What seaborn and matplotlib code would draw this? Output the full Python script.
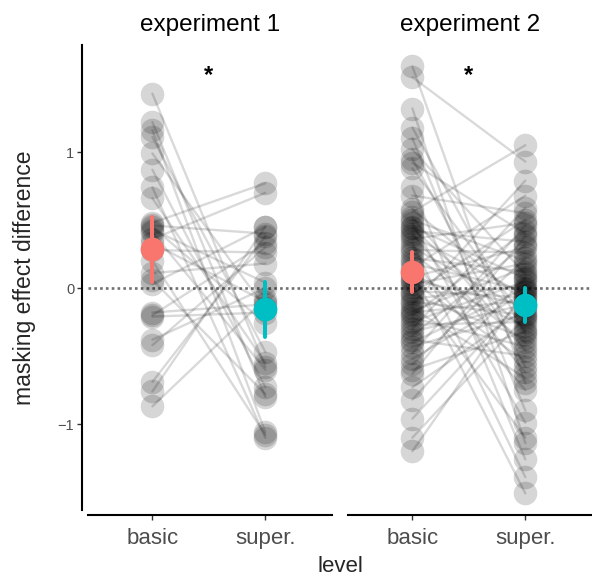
import numpy as np
import pandas as pd
import seaborn as sns
import matplotlib.pyplot as plt

# categories
levels = ['basic', 'super.']
experiments = ['experiment 1', 'experiment 2']

# experiment 1: paired values per subject (basic, super.)
exp1_basic = [1.43, 1.22, 1.16, 1.11, 0.99, 0.87, 0.74, 0.66, 0.48, 0.46,
              0.45, 0.43, 0.41, 0.36, 0.33, 0.28, 0.20, 0.11, 0.06, 0.03,
              -0.18, -0.20, -0.21, -0.38, -0.42, -0.69, -0.76, -0.87]
exp1_super = [-0.58, -0.80, -1.06, -0.47, -0.15, -0.73, -1.10, -0.55, 0.77, 0.40,
              -0.26, 0.04, -0.60, 0.70, -0.10, 0.26, -1.08, 0.18, -0.78, 0.45,
              -0.12, 0.33, -0.18, 0.00, 0.30, 0.38, 0.45, -0.08]

# experiment 2
exp2_basic = [1.63, 1.55, 1.32, 1.18, 1.10, 1.02, 0.95, 0.92, 0.88, 0.74,
              0.68, 0.58, 0.56, 0.52, 0.50, 0.48, 0.45, 0.44, 0.42, 0.40,
              0.38, 0.36, 0.33, 0.30, 0.28, 0.26, 0.22, 0.20, 0.18, 0.15,
              0.12, 0.10, 0.08, 0.06, 0.05, 0.03, 0.01, -0.02, -0.04, -0.05,
              -0.08, -0.10, -0.12, -0.15, -0.17, -0.18, -0.20, -0.22, -0.25, -0.27,
              -0.30, -0.32, -0.35, -0.38, -0.40, -0.43, -0.48, -0.52, -0.56, -0.60,
              -0.63, -0.73, -0.82, -0.96, -1.10, -1.20]
exp2_super = [-0.70, 0.93, -1.14, -0.34, -0.90, 0.10, -0.58, 0.40, -0.23, -1.26,
              0.55, -0.11, 1.05, -0.46, 0.20, -0.99, 0.07, -0.31, 0.34, -0.62,
              -0.05, 0.48, -1.39, -0.17, 0.26, -0.40, 0.12, -0.75, -0.02, 0.68,
              -1.51, -0.28, 0.30, -0.13, -0.54, 0.18, -1.10, -0.07, 0.50, -0.37,
              0.02, -0.20, 0.79, -0.66, 0.15, -0.09, 0.42, -0.43, 0.05, -0.25,
              0.59, -0.12, 0.32, -0.50, 0.00, -0.19, 0.46, -0.03, 0.22, -0.32,
              0.38, -0.15, 0.08, -0.06, -0.21, -0.01]

significance = ['*', '*']


def makeFrame(basic, superord, exp):
  n = len(basic)
  df = pd.DataFrame({
    'subject': list(range(n)) * 2,
    'level': [levels[0]] * n + [levels[1]] * n,
    'value': list(basic) + list(superord),
  })
  df['experiment'] = exp
  df['xpos'] = df['level'].map({l: i for i, l in enumerate(levels)})
  return df


frames = [makeFrame(exp1_basic, exp1_super, experiments[0]),
          makeFrame(exp2_basic, exp2_super, experiments[1])]

sns.set_style('white')
plt.rcParams['font.family'] = ['Liberation Sans', 'DejaVu Sans']

W, H = 592, 578
fig = plt.figure(figsize=(W / 100, H / 100), dpi=100)
bottom = 1 - 510 / H
height = (510 - 45) / H
axes = [fig.add_axes([88 / W, bottom, 244 / W, height]),
        fig.add_axes([348 / W, bottom, 244 / W, height])]

palette = {'basic': '#F8766D', 'super.': '#00BFC4'}

for i, (ax, df) in enumerate(zip(axes, frames)):
  ax.axhline(0, color='#707070', linestyle=(0, (1, 1.2)), linewidth=1.9, zorder=0)
  sns.stripplot(data=df, x='level', y='value', order=levels, jitter=False,
                color='black', alpha=0.16, size=17, linewidth=0, ax=ax, zorder=1)
  sns.lineplot(data=df, x='xpos', y='value', units='subject', estimator=None,
               color='black', alpha=0.15, linewidth=1.7, ax=ax, zorder=2, legend=False)

  # mean and CI on top of everything else
  nLines, nColl = len(ax.lines), len(ax.collections)
  sns.pointplot(data=df, x='level', y='value', order=levels, hue='level',
                palette=palette, errorbar=('ci', 95), seed=1, linestyle='none',
                markersize=15, err_kws={'linewidth': 2.9}, ax=ax, legend=False)
  for art in ax.lines[nLines:] + ax.collections[nColl:]:
    art.set_zorder(10)
    art.set_alpha(1)

  ax.text(0.5, 1.56, significance[i], ha='center', va='center', fontsize=17,
          fontweight='bold', color='black')
  ax.set_title(experiments[i], fontsize=17.5, pad=10, color='black')
  ax.set_xlim(-0.57, 1.59)
  ax.set_ylim(-1.632, 1.787)
  ax.set_xticks([0, 1])
  ax.set_xticklabels(levels)
  ax.set_xlabel('')
  ax.set_ylabel('')
  ax.spines['top'].set_visible(False)
  ax.spines['right'].set_visible(False)
  ax.spines['bottom'].set_position(('outward', 3.6))
  ax.spines['bottom'].set_linewidth(1.5)
  ax.spines['bottom'].set_color('black')
  ax.tick_params(axis='x', length=3.6, width=1.0, color='#333333', pad=5.5, bottom=True,
                 labelsize=16, labelcolor='#4d4d4d')
  if i == 0:
    ax.spines['left'].set_position(('outward', 4.3))
    ax.spines['left'].set_linewidth(1.5)
    ax.spines['left'].set_color('black')
    ax.set_yticks([-1, 0, 1])
    ax.tick_params(axis='y', length=3.6, width=1.0, color='#333333', labelsize=10.5,
                   labelcolor='#4d4d4d', pad=2, left=True)
  else:
    ax.spines['left'].set_visible(False)
    ax.set_yticks([])

fig.text(0.5 * (88 + 592) / W, 1 - 566 / H, 'level', ha='center', va='center', fontsize=16)
fig.text(25 / W, 1 - 278 / H, 'masking effect difference', rotation=90,
         ha='center', va='center', fontsize=16.5)

fig.savefig('out.png', dpi=100)
